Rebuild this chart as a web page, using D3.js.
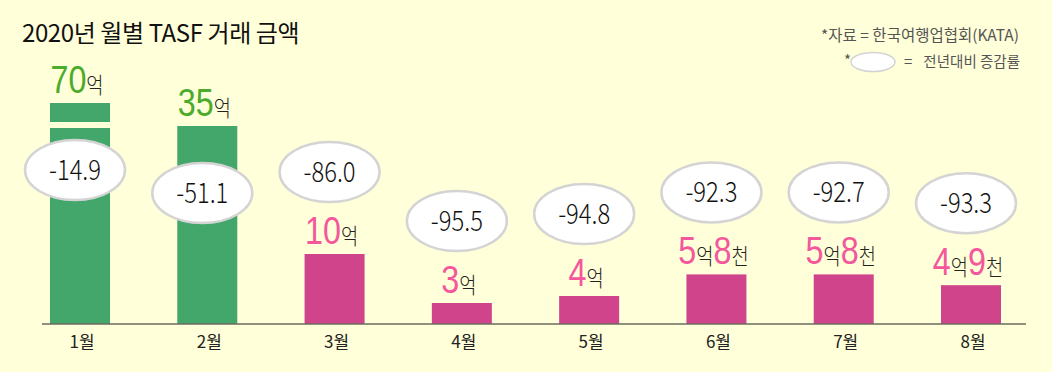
<!DOCTYPE html>
<html>
<head>
<meta charset="utf-8">
<script src="https://cdn.jsdelivr.net/npm/d3@7"></script>
<style>
  body { margin: 0; background: #ffffd9; }
  svg { display: block; }
  text { font-family: "Noto Sans CJK KR", "Noto Sans", sans-serif; }
</style>
</head>
<body>
<div id="my_dataviz"></div>
<script>
// monthly TASF amount (unit: 억 won) and YoY change (%)
var months = ["1월", "2월", "3월", "4월", "5월", "6월", "7월", "8월"];
var amounts = [70, 35, 10, 3, 4, 5.8, 5.8, 4.9];
var changes = [-14.9, -51.1, -86.0, -95.5, -94.8, -92.3, -92.7, -93.3];
var phase = ["before", "before", "after", "after", "after", "after", "after", "after"];

var width = 1052, height = 372;
var baseline = 324;

var barColor = { before: "#43a66b", after: "#cf448b" };
var numColor = { before: "#4aab2c", after: "#f4579c" };

var svg = d3.select("#my_dataviz")
  .append("svg")
    .attr("width", width)
    .attr("height", height);

svg.append("rect")
    .attr("width", width)
    .attr("height", height)
    .attr("fill", "#ffffd9");

// x: bar centres
var x = d3.scalePoint()
    .domain(months)
    .range([80, 971]);
var barW = 60;

// bar heights are not proportional in the original, the 1월 bar is broken
var h = d3.scaleLinear()
    .domain([0, 4, 6, 10, 35, 70])
    .range([0, 28, 52, 70, 198, 221]);

var data = months.map(function (m, i) {
  return { month: m, amount: amounts[i], change: changes[i], phase: phase[i] };
});

// title
svg.append("text")
    .attr("x", 22)
    .attr("y", 42)
    .attr("font-size", 24)
    .attr("font-weight", 400)
    .attr("letter-spacing", -0.4)
    .attr("fill", "#111")
    .text("2020년 월별 TASF 거래 금액");

// source + legend
svg.append("text")
    .attr("x", 1019)
    .attr("y", 41)
    .attr("text-anchor", "end")
    .attr("font-size", 15.5)
    .attr("fill", "#555")
    .text("*자료 = 한국여행업협회(KATA)");
svg.append("text")
    .attr("x", 844)
    .attr("y", 66)
    .attr("font-size", 15)
    .attr("fill", "#555")
    .text("*");
svg.append("ellipse")
    .attr("cx", 873)
    .attr("cy", 62)
    .attr("rx", 22)
    .attr("ry", 9.5)
    .attr("fill", "#fff")
    .attr("stroke", "#d4d4d4")
    .attr("stroke-width", 1.5);
svg.append("text")
    .attr("x", 904)
    .attr("y", 67)
    .attr("font-size", 15)
    .attr("fill", "#555")
    .text("=");
svg.append("text")
    .attr("x", 1020)
    .attr("y", 67)
    .attr("text-anchor", "end")
    .attr("font-size", 14.5)
    .attr("fill", "#555")
    .text("전년대비 증감률");

// bars
svg.selectAll(".bar")
    .data(data)
    .enter()
    .append("rect")
      .attr("class", "bar")
      .attr("x", function (d) { return x(d.month) - barW / 2; })
      .attr("y", function (d) { return baseline - h(d.amount); })
      .attr("width", barW)
      .attr("height", function (d) { return h(d.amount); })
      .attr("fill", function (d) { return barColor[d.phase]; });

// axis break on the tallest bar
var maxD = data[d3.maxIndex(amounts)];
svg.append("rect")
    .attr("x", x(maxD.month) - barW / 2 - 1)
    .attr("y", baseline - h(maxD.amount) + 19)
    .attr("width", barW + 2)
    .attr("height", 6)
    .attr("fill", "#ffffd9");

// baseline
svg.append("line")
    .attr("x1", 42)
    .attr("x2", 1026)
    .attr("y1", baseline)
    .attr("y2", baseline)
    .attr("stroke", "#6b6b5e")
    .attr("stroke-width", 1.5);

// month labels
svg.selectAll(".month")
    .data(data)
    .enter()
    .append("text")
      .attr("class", "month")
      .attr("x", function (d) { return x(d.month) + 2; })
      .attr("y", 348)
      .attr("text-anchor", "middle")
      .attr("font-size", 17)
      .attr("fill", "#222")
      .text(function (d) { return d.month; });

// amount labels: "5억8천" -> big digits, small units
function parts(v) {
  var eok = Math.floor(v);
  var cheon = Math.round((v - eok) * 10);
  var p = [{ t: String(eok), big: true }, { t: "억", big: false }];
  if (cheon > 0) {
    p.push({ t: String(cheon), big: true });
    p.push({ t: "천", big: false });
  }
  return p;
}

var labels = svg.selectAll(".amt")
    .data(data)
    .enter()
    .append("text")
      .attr("class", "amt")
      .attr("text-anchor", "middle")
      .attr("transform", function (d) {
        return "translate(" + (x(d.month) - 3) + "," + (baseline - h(d.amount) - 10) + ") scale(0.85,1)";
      });

labels.selectAll("tspan")
    .data(function (d) { return parts(d.amount).map(function (p) { p.phase = d.phase; return p; }); })
    .enter()
    .append("tspan")
      .attr("font-family", function (p) { return p.big ? "Liberation Sans, Arial, sans-serif" : "Noto Sans CJK KR"; })
      .attr("font-size", function (p) { return p.big ? 38 : 22; })
      .attr("font-weight", function (p) { return p.big ? 400 : 300; })
      .attr("fill", function (p) { return p.big ? numColor[p.phase] : "#222"; })
      .text(function (p) { return p.t; });

// YoY change bubbles
function bubbleY(d) {
  var top = baseline - h(d.amount);
  return h(d.amount) > 150 ? top + 67 : top - 82;
}

var bubbles = svg.selectAll(".bubble")
    .data(data)
    .enter()
    .append("g")
      .attr("class", "bubble")
      .attr("transform", function (d) { return "translate(" + (x(d.month) - 5) + "," + bubbleY(d) + ")"; });

bubbles.append("ellipse")
    .attr("rx", 50)
    .attr("ry", 30)
    .attr("fill", "#fff")
    .attr("stroke", "#d4d4d4")
    .attr("stroke-width", 2.5);

bubbles.append("text")
    .attr("text-anchor", "middle")
    .attr("y", 10)
    .attr("font-size", 28)
    .attr("font-weight", 300)
    .attr("fill", "#111")
    .attr("transform", "scale(0.85,1)")
    .text(function (d) { return d.change.toFixed(1); });
</script>
</body>
</html>
